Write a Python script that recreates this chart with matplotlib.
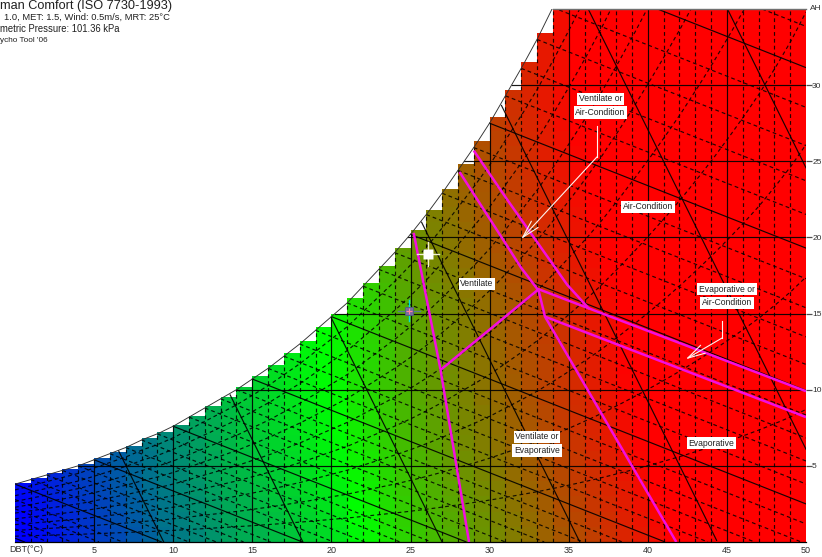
import numpy as np
import matplotlib
matplotlib.use("Agg")
import matplotlib.pyplot as plt
from matplotlib.colors import LinearSegmentedColormap
from matplotlib.patches import Polygon

plt.rcParams['font.family'] = ['Liberation Sans', 'DejaVu Sans']

# --- data -----------------------------------------------------------------
dbt_deg = list(range(0, 51))
sat_hum = [3.8, 4.1, 4.4, 4.7, 5.0, 5.4, 5.8, 6.2, 6.7, 7.1, 7.6, 8.2, 8.8, 9.4, 10.0, 10.7, 11.4,
           12.2, 13.0, 13.9, 14.8, 15.7, 16.8, 17.9, 19.0, 20.2, 21.5, 22.9, 24.4, 25.9, 27.5,
           29.3, 31.1, 33.0, 35.1, 37.3, 39.6, 42.0, 44.6, 47.3, 50.1, 53.0, 56.0, 59.2, 62.5,
           66.0, 69.6, 73.4, 77.6, 82.0, 87.0]
column_top = [3.9, 4.2, 4.5, 4.8, 5.1, 5.5, 5.9, 6.3, 6.8, 7.2, 7.7, 8.3, 8.9, 9.5, 10.2, 10.9, 11.6,
              12.4, 13.2, 14.1, 15.0, 16.0, 17.0, 18.1, 19.3, 20.5, 21.8, 23.2, 24.8, 26.3, 27.9,
              29.7, 31.5, 33.4] + [35.0] * 17
heat_by_dbt = [0, 1, 2, 3, 4, 5, 6, 7, 8, 9, 10, 11, 12, 13, 13.8, 14.5, 15.2, 16, 16.8, 17.6, 18.5,
               20, 21, 22.5, 24, 25, 26, 27, 28, 29, 30, 31, 32, 33, 34, 35, 36, 37, 38, 39, 40,
               41, 42, 43, 44, 45, 46, 47, 48, 49, 50]
heat_by_hum = [0, 0.3, 0.6, 0.9, 1.2, 1.5, 1.8, 2.0, 2.2, 2.4, 2.6, 2.7, 2.8, 2.9, 3.0, 3.1, 3.4, 3.7,
               4.0, 4.3, 4.5, 4.7, 4.9, 5.1, 5.3, 5.5, 5.7, 5.9, 6.0, 6.0, 6.0, 6.0, 6.0, 6.0, 6.0]
wet_bulb = list(range(-8, 38))
sat_below_zero = [1.7, 1.9, 2.1, 2.3, 2.5, 2.7, 3.0, 3.2, 3.5]
rh_levels = [10, 20, 30, 40, 50, 60, 70, 80, 90]
volume_crossings = [9.4, 18.2, 27.0, 35.7, 44.4, 52.9, 61.7]

x_ticks = [5, 10, 15, 20, 25, 30, 35, 40, 45, 50]
y_ticks = [5, 10, 15, 20, 25, 30]

line_a_t = [29.0, 31.1, 34.9, 36.3]; line_a_h = [25.7, 22.5, 16.9, 15.3]
line_b_t = [28.1, 32.0, 33.1, 33.5, 41.8]; line_b_h = [24.3, 18.0, 16.5, 14.8, 0.0]
line_c_t = [25.2, 26.9, 28.7]; line_c_h = [20.3, 11.3, 0.0]
line_d_t = [26.9, 33.1, 50.0]; line_d_h = [11.3, 16.6, 9.9]
line_e_t = [33.5, 50.0]; line_e_h = [14.8, 8.2]
magenta_lines = [(line_a_t, line_a_h), (line_b_t, line_b_h), (line_c_t, line_c_h),
                 (line_d_t, line_d_h), (line_e_t, line_e_h)]

label_text = ["Ventilate or", "Air-Condition", "Air-Condition", "Ventilate", "Evaporative or",
              "Air-Condition", "Ventilate or", "Evaporative", "Evaporative"]
label_t = [37.0, 37.0, 40.0, 29.2, 45.0, 45.0, 33.0, 33.0, 44.0]
label_h = [29.1, 28.2, 22.0, 16.95, 16.6, 15.7, 6.9, 6.0, 6.5]

arrow1_t = [36.8, 36.8, 32.0]; arrow1_h = [27.3, 25.3, 19.9]
arrow2_t = [44.7, 44.7, 42.4]; arrow2_h = [14.5, 13.4, 12.0]

person_t = 26.1; person_h = 18.9
air_t = 24.9; air_h = 15.2

# --- figure ---------------------------------------------------------------
W, H = 822, 557
fig = plt.figure(figsize=(W / 100, H / 100), dpi=100, facecolor='white')
ax = fig.add_axes([15 / W, (H - 542) / H, 791 / W, 533 / H])
ax.set_xlim(0, 50)
ax.set_ylim(0, 35)
ax.set_facecolor('white')

cmap = LinearSegmentedColormap.from_list('comfort', ['#0000ff', '#00ff00', '#ff0000'])
t_edges = np.arange(0, 51)
h_edges = np.arange(0, 36)
heat = np.add.outer(np.array(heat_by_hum), np.array(heat_by_dbt)[:50])
mesh = ax.pcolormesh(t_edges, h_edges, heat, cmap=cmap, vmin=0, vmax=41, zorder=1, linewidth=0, rasterized=True)
step_pts = [(0, 0)]
for t, top in zip(dbt_deg[:50], column_top[:50]):
    step_pts += [(t, top), (t + 1, top)]
step_pts.append((50, 0))
clip = Polygon(step_pts, closed=True, transform=ax.transData, fc='none', ec='none')
ax.add_patch(clip)
mesh.set_clip_path(clip)

dbt = np.array(dbt_deg, float)
sat = np.array(sat_hum)
fine = np.linspace(0, 50, 1001)
sat_fine = np.interp(fine, dbt, sat)
GRID = '#000000'
DASH = (0, (3.2, 2.6))
dash_kw = dict(color=GRID, lw=0.85, ls=DASH, zorder=2, alpha=0.85)
solid_kw = dict(color=GRID, lw=0.85, zorder=2.2, alpha=0.9)

for t in dbt_deg[:50]:
    top = min(sat_hum[t], 35)
    if t == 0:
        continue
    if t % 5 == 0:
        ax.plot([t, t], [0, top], **solid_kw)
    else:
        ax.plot([t, t], [0, top], **dash_kw)

for h in y_ticks:
    ax.plot([np.interp(h, sat, dbt), 50], [h, h], **solid_kw)

for rh in rh_levels:
    ax.plot(fine, sat_fine * rh / 100, **dash_kw)

for tw in wet_bulb:
    base = sat_below_zero[tw + 9 - 1] if tw < 0 else sat_hum[tw]
    hh = base - 0.41 * (fine - tw)
    hh = np.where((fine < tw) | (hh < 0), np.nan, hh)
    if tw % 5 == 0:
        ax.plot(fine, hh, **solid_kw)
    else:
        ax.plot(fine, hh, **dash_kw)

for c in volume_crossings:
    hh = 2.1 * (c - fine)
    hh = np.where((hh < 0) | (hh > sat_fine), np.nan, hh)
    ax.plot(fine, hh, **solid_kw)

mask = fine <= 34.3
ax.plot(fine[mask], sat_fine[mask], color='#303030', lw=0.65, zorder=2.3)

for lt, lh in magenta_lines:
    ax.plot(lt, lh, color='#f40de0', lw=1.8, zorder=3, solid_capstyle='butt')

for at, ah in ((arrow1_t, arrow1_h), (arrow2_t, arrow2_h)):
    ax.plot(at[:2], ah[:2], color='#fff4f0', lw=0.8, zorder=4)
    ax.annotate('', xy=(at[2], ah[2]), xytext=(at[1], ah[1]), zorder=4,
                arrowprops=dict(arrowstyle='->,head_length=0.85,head_width=0.22', color='#fff4f0',
                                lw=0.8, mutation_scale=15, shrinkA=0, shrinkB=0))

for s, t, h in zip(label_text, label_t, label_h):
    ax.text(t, h, s, ha='center', va='center', fontsize=6.2, color='#202020', zorder=5,
            bbox=dict(fc='white', ec='none', pad=1.2))

# psychrometric markers
ax.plot([person_t - 0.7, person_t + 0.7], [person_h, person_h], color='#f0f0d0', lw=1.0, zorder=6)
ax.plot([person_t, person_t], [person_h - 0.8, person_h + 0.8], color='#f0f0d0', lw=1.0, zorder=6)
ax.plot([person_t], [person_h], marker='s', ms=6.5, color='white', mec='none', zorder=7)
ax.plot([air_t - 0.7, air_t + 0.7], [air_h, air_h], color='#5a7a90', lw=1.0, zorder=6)
ax.plot([air_t, air_t], [air_h - 0.7, air_h + 0.7], color='#00e0e0', lw=1.0, zorder=6)
ax.plot([air_t], [air_h], marker='s', ms=5.5, color='#7a6aa0', mec='#506080', mew=0.6, zorder=7)
ax.plot([air_t], [air_h], marker='+', ms=4, color='#ff80a0', mew=0.8, zorder=8)

# axes
for name in ('left', 'right'):
    ax.spines[name].set_visible(False)
ax.spines['bottom'].set_color('black')
ax.spines['bottom'].set_linewidth(0.9)
ax.spines['top'].set_visible(False)
ax.plot([34, 50], [35, 35], color='#707070', lw=1.0, zorder=5, clip_on=False)
ax.set_xticks(x_ticks)
ax.set_xticklabels([str(v) for v in x_ticks], fontsize=6.5, color='#303030')
ax.tick_params(axis='x', length=0, pad=3)
ax.yaxis.tick_right()
ax.set_yticks(y_ticks)
ax.set_yticklabels([str(v) for v in y_ticks], fontsize=6.0, color='#303030')
ax.tick_params(axis='y', length=4, width=0.9, color='#505050', pad=0.4, direction='out')
fig.text(9 / W, 1 - 549 / H, 'DBT(°C)', fontsize=6.5, color='#303030', ha='left', va='center')
fig.text(809.5 / W, 1 - 9 / H, 'AH', fontsize=6.0, color='#303030', ha='left', va='center')

# header
fig.text(0, 1 - 6.5 / H, 'man Comfort (ISO 7730-1993)', fontsize=9.15, color='#202020', ha='left', va='center')
fig.text(4 / W, 1 - 17.5 / H, '1.0, MET: 1.5, Wind: 0.5m/s, MRT: 25°C', fontsize=6.78, color='#202020', ha='left', va='center')
fig.text(0, 1 - 29 / H, 'metric Pressure: 101.36 kPa', fontsize=6.85, color='#202020', ha='left', va='center')
fig.text(0, 1 - 40 / H, "ycho Tool '06", fontsize=5.9, color='#202020', ha='left', va='center')

fig.savefig('out.png', dpi=100, facecolor='white')
